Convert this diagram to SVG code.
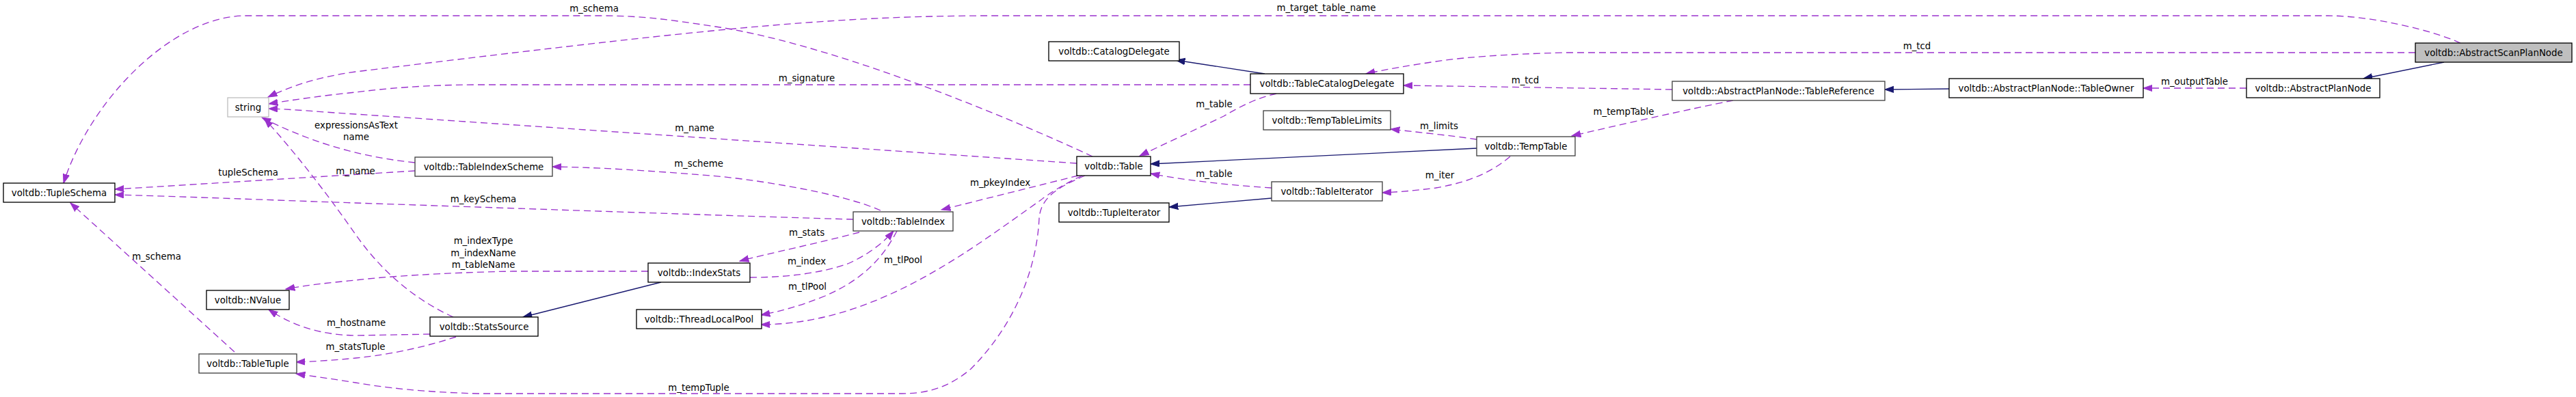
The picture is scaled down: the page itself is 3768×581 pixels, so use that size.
<svg xmlns="http://www.w3.org/2000/svg" width="3768" height="581" viewBox="0 0 3768 581">
<style>
text{font-family:"DejaVu Sans","Liberation Sans",sans-serif;font-size:13.33px;fill:#000}
.node text{text-anchor:middle}
.node rect{fill:#fff;stroke:#000;stroke-width:1.33}
.node.g rect{stroke:#404040}
.node.u rect{stroke:#bfbfbf}
.node.h rect{fill:#bfbfbf}
.e{fill:none;stroke:#9a32cd;stroke-width:1.33;stroke-dasharray:10,6}
.i{fill:none;stroke:#191970;stroke-width:1.33}
.lbl text{text-anchor:middle}
</style>
<defs>
<marker id="ap" markerUnits="userSpaceOnUse" markerWidth="15" markerHeight="11" refX="13.3" refY="5" orient="auto"><path d="M0,0.3 L13.3,5 L0,9.7 z" fill="#9a32cd" stroke="#9a32cd" stroke-width="1"/></marker>
<marker id="an" markerUnits="userSpaceOnUse" markerWidth="15" markerHeight="11" refX="13.3" refY="5" orient="auto"><path d="M0,0.3 L13.3,5 L0,9.7 z" fill="#191970" stroke="#191970" stroke-width="1"/></marker>
</defs>
<g id="connectors">
<path class="e" marker-end="url(#ap)" d="M3599,63 C3560,45 3470,23 3405,23 L1450,23 C1200,23 1000,47 520,105 C470,112 430,124 392,142"/>
<path class="e" marker-end="url(#ap)" d="M1598,229 C1450,160 1200,60 1040,38 C980,29 940,23 880,23 L360,23 C250,23 130,150 93,268"/>
<path class="e" marker-end="url(#ap)" d="M1829,124 L700,124 C620,124 560,130 520,135 C470,140 430,146 393,152"/>
<path class="e" marker-end="url(#ap)" d="M1575,239 L520,167 C470,164 430,160 393,159"/>
<path class="e" marker-end="url(#ap)" d="M607,238 C540,231 465,214 383,172"/>
<path class="e" marker-end="url(#ap)" d="M663,464 C610,440 560,400 520,343 C490,300 440,232 387,174"/>
<path class="e" marker-end="url(#ap)" d="M607,250 L168,277"/>
<path class="e" marker-end="url(#ap)" d="M1248,321 C1100,317 700,303 520,297 C400,293 280,288 168,285"/>
<path class="e" marker-end="url(#ap)" d="M1288,308 C1230,282 1100,262 1040,257 C950,250 880,245 808,244"/>
<path class="e" marker-end="url(#ap)" d="M948,397 L750,397 C650,399 560,405 520,410 C480,414 450,417 418,423"/>
<path class="i" marker-end="url(#an)" d="M967,413 L765,464"/>
<path class="e" marker-end="url(#ap)" d="M629,489 L520,491 C470,490 430,478 393,453"/>
<path class="e" marker-end="url(#ap)" d="M667,493 C630,505 580,518 520,524 C490,527 460,529 433,530"/>
<path class="e" marker-end="url(#ap)" d="M343,515 L103,297"/>
<path class="e" marker-end="url(#ap)" d="M1587,257 C1545,275 1522,290 1520,320 C1516,400 1480,480 1420,540 C1390,565 1360,576 1320,576 L700,576 C620,574 560,567 520,560 C490,555 460,551 433,547"/>
<path class="e" marker-end="url(#ap)" d="M1583,257 C1555,270 1535,283 1522,293 C1420,365 1280,475 1113,475"/>
<path class="e" marker-end="url(#ap)" d="M1577,257 L1377,307"/>
<path class="e" marker-end="url(#ap)" d="M1257,340 C1200,355 1120,372 1082,382"/>
<path class="e" marker-end="url(#ap)" d="M1097,406 C1150,406 1200,400 1240,386 C1265,375 1290,358 1307,338"/>
<path class="e" marker-end="url(#ap)" d="M1312,338 C1290,380 1260,410 1207,433 C1170,448 1140,456 1113,461"/>
<path class="e" marker-end="url(#ap)" d="M1867,137 C1840,143 1815,155 1790,170 L1667,228"/>
<path class="i" marker-end="url(#an)" d="M1850,108 L1720,88"/>
<path class="e" marker-end="url(#ap)" d="M1860,275 C1800,271 1740,265 1683,254"/>
<path class="i" marker-end="url(#an)" d="M1860,290 L1710,303"/>
<path class="i" marker-end="url(#an)" d="M2160,217 L1683,240"/>
<path class="e" marker-end="url(#ap)" d="M2160,204 C2120,198 2070,193 2034,189"/>
<path class="e" marker-end="url(#ap)" d="M2209,229 C2190,245 2160,265 2100,275 C2070,279 2045,281 2022,282"/>
<path class="e" marker-end="url(#ap)" d="M2535,147 C2470,160 2380,180 2299,199"/>
<path class="e" marker-end="url(#ap)" d="M2446,131 L2053,125"/>
<path class="e" marker-end="url(#ap)" d="M3533,77 L2290,77 C2200,79 2130,85 2100,90 C2060,96 2030,101 1998,108"/>
<path class="i" marker-end="url(#an)" d="M3575,91 L3457,115"/>
<path class="e" marker-end="url(#ap)" d="M3286,129 L3135,129"/>
<path class="i" marker-end="url(#an)" d="M2851,130 L2757,131"/>
<g class="lbl">
<text x="1940" y="16">m_target_table_name</text>
<text x="869" y="17">m_schema</text>
<text x="1180" y="119">m_signature</text>
<text x="1016" y="192">m_name</text>
<text x="521" y="188">expressionsAsText</text>
<text x="521" y="205">name</text>
<text x="520" y="255">m_name</text>
<text x="363" y="257">tupleSchema</text>
<text x="707" y="296">m_keySchema</text>
<text x="1022" y="244">m_scheme</text>
<text x="707" y="357">m_indexType</text>
<text x="707" y="375">m_indexName</text>
<text x="707" y="392">m_tableName</text>
<text x="521" y="477">m_hostname</text>
<text x="520" y="512">m_statsTuple</text>
<text x="229" y="380">m_schema</text>
<text x="1022" y="572">m_tempTuple</text>
<text x="1180" y="345">m_stats</text>
<text x="1180" y="387">m_index</text>
<text x="1181" y="424">m_tlPool</text>
<text x="1321" y="385">m_tlPool</text>
<text x="1463" y="272">m_pkeyIndex</text>
<text x="1776" y="157">m_table</text>
<text x="1776" y="259">m_table</text>
<text x="2105" y="189">m_limits</text>
<text x="2106" y="261">m_iter</text>
<text x="2375" y="168">m_tempTable</text>
<text x="2231" y="122">m_tcd</text>
<text x="2804" y="72">m_tcd</text>
<text x="3210" y="124">m_outputTable</text>
</g>
</g>
<g id="n_AbstractScanPlanNode" class="node h"><rect x="3533" y="63" width="229" height="28"/><text x="3647.5" y="81.7">voltdb::AbstractScanPlanNode</text></g>
<g id="n_AbstractPlanNode" class="node"><rect x="3286" y="115" width="195" height="28"/><text x="3383.5" y="133.7">voltdb::AbstractPlanNode</text></g>
<g id="n_TableOwner" class="node"><rect x="2851" y="115" width="284" height="28"/><text x="2993" y="133.7">voltdb::AbstractPlanNode::TableOwner</text></g>
<g id="n_TableReference" class="node g"><rect x="2446" y="119" width="311" height="28"/><text x="2601.5" y="137.7">voltdb::AbstractPlanNode::TableReference</text></g>
<g id="n_TableCatalogDelegate" class="node"><rect x="1829" y="108" width="224" height="29"/><text x="1941" y="127.2">voltdb::TableCatalogDelegate</text></g>
<g id="n_CatalogDelegate" class="node"><rect x="1534" y="61" width="191" height="28"/><text x="1629.5" y="79.7">voltdb::CatalogDelegate</text></g>
<g id="n_TempTableLimits" class="node g"><rect x="1848" y="162" width="186" height="28"/><text x="1941" y="180.7">voltdb::TempTableLimits</text></g>
<g id="n_TempTable" class="node g"><rect x="2160" y="200" width="144" height="28"/><text x="2232" y="218.7">voltdb::TempTable</text></g>
<g id="n_Table" class="node"><rect x="1575" y="229" width="108" height="28"/><text x="1629" y="247.7">voltdb::Table</text></g>
<g id="n_TableIterator" class="node g"><rect x="1860" y="266" width="162" height="28"/><text x="1941" y="284.7">voltdb::TableIterator</text></g>
<g id="n_TupleIterator" class="node"><rect x="1549" y="297" width="161" height="28"/><text x="1629.5" y="315.7">voltdb::TupleIterator</text></g>
<g id="n_TableIndex" class="node g"><rect x="1248" y="310" width="146" height="28"/><text x="1321" y="328.7">voltdb::TableIndex</text></g>
<g id="n_TableIndexScheme" class="node g"><rect x="607" y="230" width="201" height="28"/><text x="707.5" y="248.7">voltdb::TableIndexScheme</text></g>
<g id="n_string" class="node u"><rect x="333" y="143" width="60" height="28"/><text x="363" y="161.7">string</text></g>
<g id="n_TupleSchema" class="node"><rect x="5" y="268" width="163" height="28"/><text x="86.5" y="286.7">voltdb::TupleSchema</text></g>
<g id="n_IndexStats" class="node"><rect x="948" y="385" width="149" height="28"/><text x="1022.5" y="403.7">voltdb::IndexStats</text></g>
<g id="n_ThreadLocalPool" class="node"><rect x="931" y="453" width="183" height="28"/><text x="1022.5" y="471.7">voltdb::ThreadLocalPool</text></g>
<g id="n_StatsSource" class="node"><rect x="629" y="464" width="158" height="28"/><text x="708" y="482.7">voltdb::StatsSource</text></g>
<g id="n_NValue" class="node"><rect x="302" y="425" width="121" height="28"/><text x="362.5" y="443.7">voltdb::NValue</text></g>
<g id="n_TableTuple" class="node g"><rect x="291" y="518" width="143" height="28"/><text x="362.5" y="536.7">voltdb::TableTuple</text></g>
</svg>
